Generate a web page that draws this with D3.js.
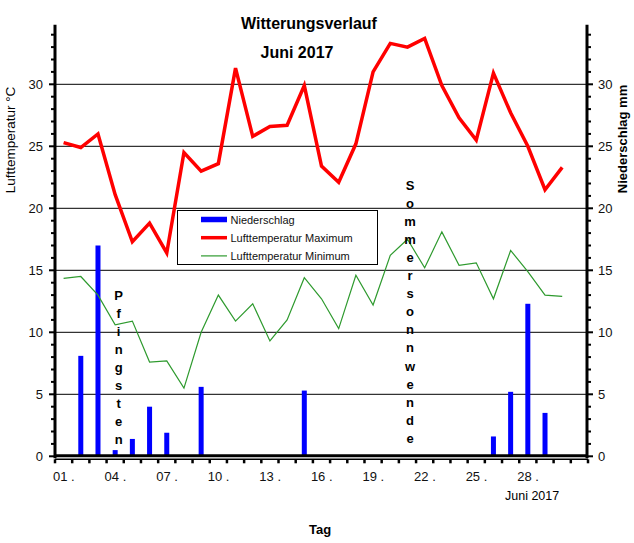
<!DOCTYPE html>
<meta charset="utf-8">
<style>
body { margin: 0; background: #fff; }
svg { font-family: "Liberation Sans", Arial, sans-serif; }
</style>
<svg width="634" height="543"></svg>
<script src="https://d3js.org/d3.v7.min.js"></script>
<script>

var svg = d3.select("svg");

// Juni 2017, Tage 1..30
var days = d3.range(1, 31);
var tempMax = [25.3, 24.9, 26.0, 21.1, 17.3, 18.8, 16.4, 24.5, 23.0, 23.6,
               31.3, 25.8, 26.6, 26.7, 29.9, 23.4, 22.1, 25.2, 31.0, 33.3,
               33.0, 33.7, 29.9, 27.3, 25.5, 30.9, 27.7, 25.0, 21.5, 23.3];
var tempMin = [14.35, 14.5, 13.0, 10.6, 10.9, 7.6, 7.7, 5.5, 10.0, 13.0,
               10.9, 12.3, 9.3, 11.0, 14.4, 12.7, 10.3, 14.6, 12.2, 16.2,
               17.5, 15.2, 18.1, 15.4, 15.6, 12.7, 16.6, 14.9, 13.0, 12.9];
var rain = [0, 8.1, 17.0, 0.5, 1.4, 4.0, 1.9, 0, 5.6, 0,
            0, 0, 0, 0, 5.3, 0, 0, 0, 0, 0,
            0, 0, 0, 0, 0, 1.6, 5.2, 12.3, 3.5, 0];
var xLabels = ["01 .", "04 .", "07 .", "10 .", "13 .", "16 .", "19 .", "22 .", "25 .", "28 ."];
var yTicks = [0, 5, 10, 15, 20, 25, 30];
var notes = [{day: 4.2, text: "Pfingsten", top: 295},
             {day: 21.15, text: "Sommersonnwende", top: 185}];

var x = d3.scaleLinear().domain([0, 31]).range([55, 588]);
var y = d3.scaleLinear().domain([0, 35]).range([456.3, 22.3]);
var cx = function(d) { return x(d - 0.5); };

// gridlines
svg.append("g").selectAll("line")
  .data(yTicks.slice(1))
  .enter().append("line")
    .attr("x1", x(0)).attr("x2", x(31))
    .attr("y1", function(d) { return y(d); })
    .attr("y2", function(d) { return y(d); })
    .attr("stroke", "#000").attr("stroke-width", 1);

// bars
svg.append("g").selectAll("rect")
  .data(days.filter(function(d, i) { return rain[i] > 0; }))
  .enter().append("rect")
    .attr("x", function(d) { return cx(d) - 2.5; })
    .attr("width", 5)
    .attr("y", function(d) { return y(rain[d - 1]); })
    .attr("height", function(d) { return y(0) - y(rain[d - 1]); })
    .attr("fill", "#0000ff");

var line = function(vals) {
  return d3.line()
    .x(function(d) { return cx(d); })
    .y(function(d) { return y(vals[d - 1]); })(days);
};

svg.append("path")
    .attr("d", line(tempMin))
    .attr("fill", "none")
    .attr("stroke", "#2e9a2e")
    .attr("stroke-width", 1.2);

svg.append("path")
    .attr("d", line(tempMax))
    .attr("fill", "none")
    .attr("stroke", "#ff0000")
    .attr("stroke-width", 3.5)
    .attr("stroke-linejoin", "miter");

// vertical notes
notes.forEach(function(n) {
  svg.append("g").selectAll("text")
    .data(n.text.split(""))
    .enter().append("text")
      .attr("x", cx(n.day))
      .attr("y", function(d, i) { return n.top + 5 + i * 18.05; })
      .attr("text-anchor", "middle")
      .attr("font-size", 13)
      .attr("font-weight", "bold")
      .text(function(d) { return d; });
});

// axes
var axes = svg.append("g");
axes.append("line")
    .attr("x1", x(0)).attr("x2", x(0))
    .attr("y1", y(34.8)).attr("y2", y(0) + 2)
    .attr("stroke", "#000").attr("stroke-width", 3);
axes.append("line")
    .attr("x1", x(31) - 1).attr("x2", x(31) - 1)
    .attr("y1", y(34.8)).attr("y2", y(0) + 2)
    .attr("stroke", "#000").attr("stroke-width", 3);
axes.append("line")
    .attr("x1", x(0)).attr("x2", x(31))
    .attr("y1", y(0) - 0.5).attr("y2", y(0) - 0.5)
    .attr("stroke", "#000").attr("stroke-width", 3);
axes.append("line")
    .attr("x1", x(0)).attr("x2", x(31))
    .attr("y1", y(0) + 3).attr("y2", y(0) + 3)
    .attr("stroke", "#000").attr("stroke-width", 1.5);

// minor + major y ticks, both sides
var minor = d3.range(0, 35).filter(function(d) { return d % 5 !== 0; });
axes.selectAll(".minL").data(minor).enter().append("line")
    .attr("x1", x(0) - 4).attr("x2", x(0))
    .attr("y1", function(d) { return y(d); }).attr("y2", function(d) { return y(d); })
    .attr("stroke", "#000").attr("stroke-width", 2);
axes.selectAll(".minR").data(minor).enter().append("line")
    .attr("x1", x(31)).attr("x2", x(31) + 3)
    .attr("y1", function(d) { return y(d); }).attr("y2", function(d) { return y(d); })
    .attr("stroke", "#000").attr("stroke-width", 2);
axes.selectAll(".majL").data(yTicks).enter().append("line")
    .attr("x1", x(0) - 6).attr("x2", x(0))
    .attr("y1", function(d) { return y(d); }).attr("y2", function(d) { return y(d); })
    .attr("stroke", "#000").attr("stroke-width", 2);
axes.selectAll(".majR").data(yTicks).enter().append("line")
    .attr("x1", x(31)).attr("x2", x(31) + 5)
    .attr("y1", function(d) { return y(d); }).attr("y2", function(d) { return y(d); })
    .attr("stroke", "#000").attr("stroke-width", 2);

// x ticks
axes.selectAll(".xt").data(d3.range(0, 32)).enter().append("line")
    .attr("x1", function(d) { return x(d); }).attr("x2", function(d) { return x(d); })
    .attr("y1", y(0) + 3).attr("y2", y(0) + 7)
    .attr("stroke", "#000").attr("stroke-width", 2.5);

// tick labels
axes.selectAll(".yl").data(yTicks).enter().append("text")
    .attr("x", 43).attr("y", function(d) { return y(d) + 4.5; })
    .attr("text-anchor", "end").attr("font-size", 13).attr("fill", "#111")
    .text(function(d) { return d; });
axes.selectAll(".yr").data(yTicks).enter().append("text")
    .attr("x", 598).attr("y", function(d) { return y(d) + 4.5; })
    .attr("text-anchor", "start").attr("font-size", 13).attr("fill", "#111")
    .text(function(d) { return d; });
axes.selectAll(".xl").data(xLabels).enter().append("text")
    .attr("x", function(d, i) { return x(i * 3) - 2; })
    .attr("y", 480.5)
    .attr("font-size", 13).attr("fill", "#111")
    .text(function(d) { return d; });

svg.append("text").attr("x", 505).attr("y", 500)
    .attr("font-size", 12.5).text("Juni 2017");
svg.append("text").attr("x", 320).attr("y", 534)
    .attr("text-anchor", "middle").attr("font-size", 13).attr("font-weight", "bold").text("Tag");

// titles
svg.append("text").attr("x", 309).attr("y", 29)
    .attr("text-anchor", "middle").attr("font-size", 16).attr("font-weight", "bold")
    .text("Witterungsverlauf");
svg.append("text").attr("x", 297).attr("y", 58)
    .attr("text-anchor", "middle").attr("font-size", 16).attr("font-weight", "bold")
    .text("Juni 2017");
svg.append("text")
    .attr("transform", "translate(15,140) rotate(-90)")
    .attr("text-anchor", "middle").attr("font-size", 13.5)
    .text("Lufttemperatur °C");
svg.append("text")
    .attr("transform", "translate(627,139) rotate(-90)")
    .attr("text-anchor", "middle").attr("font-size", 13).attr("font-weight", "bold")
    .text("Niederschlag  mm");

// legend
var lg = svg.append("g");
lg.append("rect")
    .attr("x", 177.5).attr("y", 210.5).attr("width", 200).attr("height", 54)
    .attr("fill", "#fff").attr("stroke", "#000").attr("stroke-width", 1);
var items = [
  {name: "Niederschlag", color: "#0000ff", w: 5.5},
  {name: "Lufttemperatur Maximum", color: "#ff0000", w: 3.5},
  {name: "Lufttemperatur Minimum", color: "#2e9a2e", w: 1.2}
];
items.forEach(function(it, i) {
  var yy = 219.5 + i * 18.2;
  lg.append("line").attr("x1", 201).attr("x2", 227)
    .attr("y1", yy).attr("y2", yy)
    .attr("stroke", it.color).attr("stroke-width", it.w);
  lg.append("text").attr("x", 230.5).attr("y", yy + 4)
    .attr("font-size", 11).attr("fill", "#111").text(it.name);
});

</script>
